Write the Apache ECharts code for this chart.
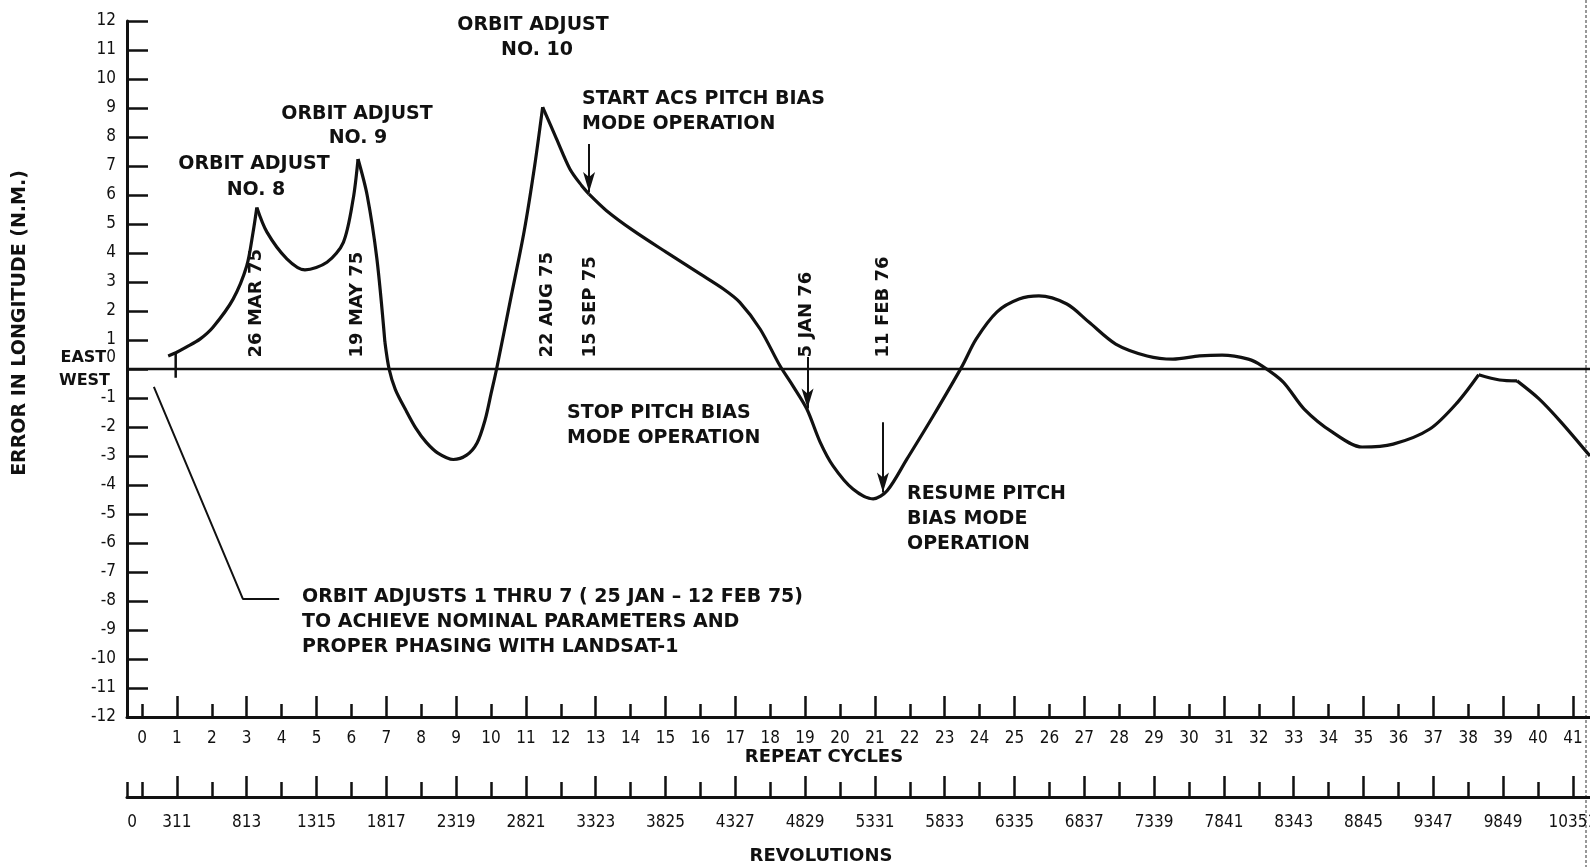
<!DOCTYPE html>
<html><head><meta charset="utf-8">
<script src="https://cdn.jsdelivr.net/npm/echarts@6/dist/echarts.min.js"></script>
<style>html,body{margin:0;padding:0;background:#fff}#c{width:1590px;height:867px}</style>
</head><body><div id="c"></div>
<script>
// ---------- data ----------
const cycleLabels = [0,1,2,3,4,5,6,7,8,9,10,11,12,13,14,15,16,17,18,19,20,21,22,23,24,25,26,27,28,29,30,31,32,33,34,35,36,37,38,39,40,41];
const cycleEvenTicks = [0,2,4,6,8,10,12,14,16,18,20,22,24,26,28,30,32,34,36,38,40];
const cycleOddTicks = [1,3,5,7,9,11,13,15,17,19,21,23,25,27,29,31,33,35,37,39,41];
const revShortTicks = [-0.41,0,2,4,6,8,10,12,14,16,18,20,22,24,26,28,30,32,34,36,38,40];
const revLabelCycles = [-0.28,1,3,5,7,9,11,13,15,17,19,21,23,25,27,29,31,33,35,37,39,41];
const revLabels = ['0','311','813','1315','1817','2319','2821','3323','3825','4327','4829','5331','5833','6335','6837','7339','7841','8343','8845','9347','9849','10351'];

// error in longitude (N.M.) vs repeat cycle, split at the sharp corners
const segA = [[0.75,0.45],[0.97,0.56],[1.28,0.76],[1.66,1.03],[2.04,1.45],[2.61,2.41],[3.0,3.55],[3.18,4.7],[3.29,5.57]];
const segB = [[3.29,5.57],[3.58,4.72],[4.15,3.8],[4.67,3.42],[5.3,3.68],[5.77,4.37],[6.05,5.86],[6.19,7.24]];
const segC = [[6.19,7.24],[6.45,6.0],[6.73,3.8],[6.96,0.93]];
const segC2 = [[6.96,0.93],[7.08,0],[7.26,-0.71],[7.55,-1.4],[7.84,-2.03],[8.14,-2.52],[8.48,-2.9],[8.92,-3.12],[9.3,-2.97],[9.6,-2.55],[9.83,-1.76],[10.0,-0.86],[10.16,0],[10.56,2.4],[10.95,4.75],[11.25,7.0],[11.48,9.03]];
const segD = [[11.48,9.03],[11.88,7.93],[12.26,6.9],[12.6,6.32],[12.81,6.03]];
const segE = [[12.81,6.03],[13.31,5.46],[14.08,4.77],[15.03,4.02],[15.99,3.28],[16.66,2.76],[17.13,2.3],[17.71,1.38],[18.28,0.11],[18.65,-0.58],[19.05,-1.38],[19.43,-2.52],[19.8,-3.34],[20.37,-4.14],[20.95,-4.48],[21.35,-4.2],[21.92,-3.1],[22.67,-1.62],[23.5,0.1],[23.9,1.03],[24.5,1.97],[25.13,2.41],[25.7,2.52],[26.5,2.24],[27.13,1.62],[27.9,0.86],[28.8,0.45],[29.54,0.34],[30.3,0.45],[30.95,0.48],[31.7,0.34],[32.1,0.1],[32.7,-0.45],[33.3,-1.38],[34.1,-2.17],[34.96,-2.69],[35.85,-2.59],[36.9,-2.07],[37.7,-1.14],[38.3,-0.2]];
const segF = [[38.3,-0.2],[38.9,-0.38],[39.4,-0.41]];
const segG = [[39.4,-0.41],[40.03,-1.03],[40.66,-1.83],[41.49,-3.0]];

const zeroLine = [[-0.43,0],[41.49,0]];
const startMarker = [[0.965,0.55],[0.965,-0.3]];
const leaderLine = [[0.34,-0.62],[2.89,-7.93],[3.93,-7.93]];
// arrows: [cycle, from, to]
const arrows = [[12.81,7.76,6.1],[19.07,0.41,-1.36],[21.23,-1.84,-4.26]];
// event dates: [label, cycle]
const eventDates = [['26 MAR 75',3.27],['19 MAY 75',6.16],['22 AUG 75',11.6],['15 SEP 75',12.84],['5 JAN 76',19.03],['11 FEB 76',21.23]];

// ---------- chart ----------
const INK = '#111';
const XMIN = -0.43, XMAX = 41.49;
const FONT = 'DejaVu Sans';
const NUMFONT = "'DejaVu Sans Condensed', 'DejaVu Sans'";
const chart = echarts.init(document.getElementById('c'), null, {renderer:'canvas', width:1590, height:867});

function xAx(o){
  return Object.assign({type:'value', min:XMIN, max:XMAX, position:'bottom',
    splitLine:{show:false}, axisLine:{show:false, onZero:false}, axisTick:{show:false}, axisLabel:{show:false}}, o);
}
const axLine = {show:true, onZero:false, lineStyle:{color:INK, width:3}};
const tickStyle = {color:INK, width:2.5};

const curveSeries = [segA,segB,segC,segC2,segD,segE,segF,segG].map(d => ({
  type:'line', data:d, smooth:0.3, symbol:'none', silent:true,
  lineStyle:{color:INK, width:3.2}
}));
function plain(d, w){ return {type:'line', data:d, symbol:'none', silent:true, lineStyle:{color:INK, width:w}}; }

chart.setOption({
  animation:false,
  backgroundColor:'#fff',
  grid:{left:127, right:0, top:21, bottom:150, containLabel:false, outerBoundsMode:'none'},
  xAxis:[
    xAx({axisLine:axLine,
         axisTick:{show:true, inside:true, length:13, lineStyle:tickStyle, customValues:cycleEvenTicks},
         axisLabel:{show:true, customValues:cycleLabels, margin:13, fontFamily:NUMFONT, fontSize:17, color:INK, formatter:v=>String(v)}}),
    xAx({axisTick:{show:true, inside:true, length:21, lineStyle:tickStyle, customValues:cycleOddTicks}}),
    xAx({offset:80, axisLine:axLine,
         axisTick:{show:true, inside:true, length:15, lineStyle:tickStyle, customValues:revShortTicks},
         axisLabel:{show:true, customValues:revLabelCycles, margin:17, fontFamily:NUMFONT, fontSize:17, color:INK,
           formatter:v=>{const i=revLabelCycles.indexOf(v); return i>=0?revLabels[i]:'';}}}),
    xAx({offset:80, axisTick:{show:true, inside:true, length:21, lineStyle:tickStyle, customValues:cycleOddTicks}})
  ],
  yAxis:{type:'value', min:-12, max:12, interval:1, position:'left',
    splitLine:{show:false}, axisLine:axLine,
    axisTick:{show:true, inside:true, length:21, lineStyle:tickStyle},
    axisLabel:{margin:11, fontFamily:NUMFONT, fontSize:17, color:INK,
      formatter:v=> v===0 ? '{e|EAST}{z|0}\n{w|WEST}' : (v<0 ? '-'+(-v) : String(v)),
      rich:{
        e:{fontFamily:FONT, fontSize:16, fontWeight:'bold', lineHeight:23, color:INK},
        z:{fontFamily:NUMFONT, fontSize:17, lineHeight:23, color:INK},
        w:{fontFamily:FONT, fontSize:16, fontWeight:'bold', lineHeight:23, color:INK, padding:[0,6,0,0]}
      }}},
  series:[
    plain(zeroLine, 2.5),
    ...curveSeries,
    plain(startMarker, 2.5),
    plain(leaderLine, 2),
    {type:'line', data:[], silent:true,
     markLine:{silent:true, symbol:['none','arrow'], symbolSize:[9,20], label:{show:false},
       lineStyle:{color:INK, width:2, type:'solid'},
       data: arrows.map(a=>[{coord:[a[0],a[1]]},{coord:[a[0],a[2]]}])}}
  ]
});

// ---------- annotations ----------
const ann = {fontFamily:FONT, fontSize:19, fontWeight:'bold', fill:INK};
function T(text, x, y, align, extra){
  return {type:'text', x:x, y:y, silent:true,
    style:Object.assign({text:text, align:align||'center', verticalAlign:'middle'}, ann, extra||{})};
}
const g = [
  T('ORBIT ADJUST',254,164), T('NO. 8',256,190),
  T('ORBIT ADJUST',357,114), T('NO. 9',358,138),
  T('ORBIT ADJUST',533,25), T('NO. 10',537,50),
  T('START ACS PITCH BIAS',582,99,'left'), T('MODE OPERATION',582,124,'left'),
  T('STOP PITCH BIAS',567,413,'left'), T('MODE OPERATION',567,438,'left'),
  T('RESUME PITCH',907,494,'left'), T('BIAS MODE',907,519,'left'), T('OPERATION',907,544,'left'),
  T('ORBIT ADJUSTS 1 THRU 7 ( 25 JAN \u2013 12 FEB 75)',302,597,'left'),
  T('TO ACHIEVE NOMINAL PARAMETERS AND',302,622,'left'),
  T('PROPER PHASING WITH LANDSAT-1',302,647,'left'),
  T('REPEAT CYCLES',824,757,'center',{fontSize:18}), T('REVOLUTIONS',821,856,'center',{fontSize:18}),
  Object.assign(T('ERROR IN LONGITUDE (N.M.)',20,323,'center',{fontSize:19}),{rotation:Math.PI/2}),
  {type:'line', silent:true, shape:{x1:1586,y1:0,x2:1586,y2:867}, style:{stroke:'#777', lineWidth:1.5, lineDash:[3,2]}}
];
eventDates.forEach(d=>{
  const p = chart.convertToPixel({xAxisIndex:0, yAxisIndex:0}, [d[1], 0.4]);
  g.push(Object.assign(T(d[0], p[0], p[1], 'left', {fontSize:18}), {rotation:Math.PI/2}));
});
chart.setOption({graphic:g});
</script>
</body></html>
